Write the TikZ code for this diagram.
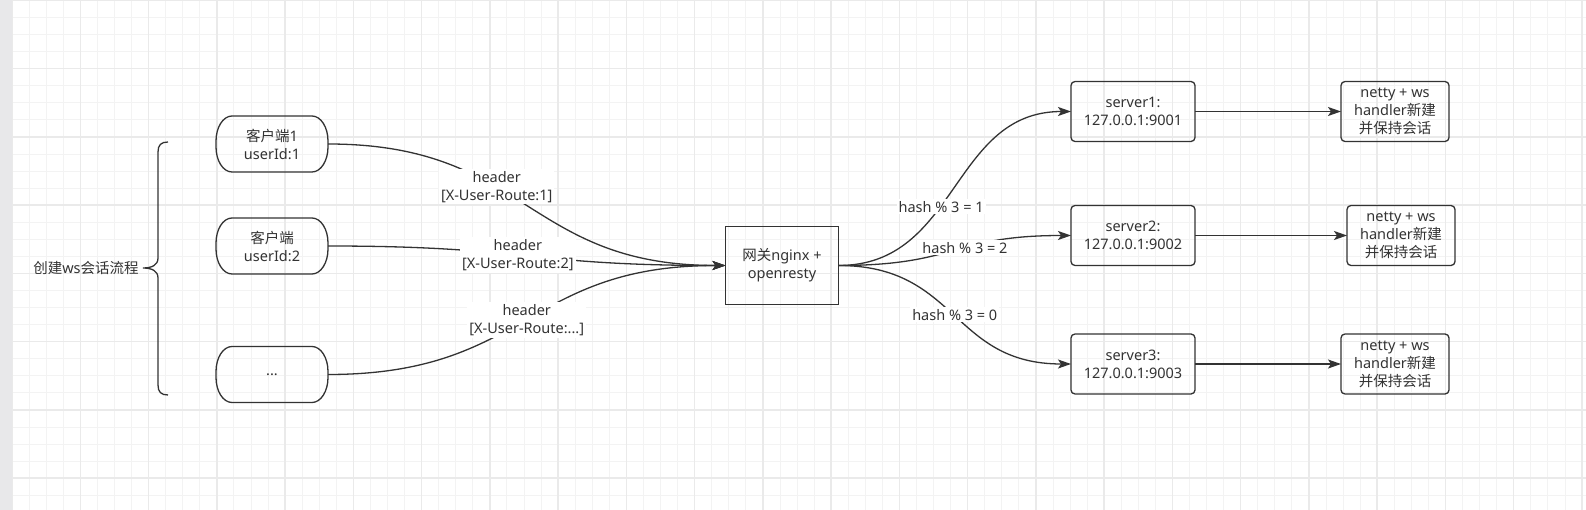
\documentclass[tikz,border=0pt]{standalone}
\usepackage{fontspec}
\setmainfont{Noto Sans}
\newfontfamily\cjk{Noto Sans CJK SC}
\usetikzlibrary{arrows.meta}

\definecolor{ink}{HTML}{333333}
\definecolor{gridmajor}{HTML}{EAEAEA}
\definecolor{gridminor}{HTML}{F3F3F3}
\definecolor{sidebar}{HTML}{E8E8EA}

\tikzset{
	txt/.style={text=ink, font=\fontsize{14.5}{18}\selectfont, align=center},
	frame/.style={draw=ink, line width=1.3pt},
	client/.style={txt, minimum width=112pt, minimum height=56pt, outer sep=0pt},
	gate/.style={txt, frame, minimum width=113pt, minimum height=78pt, outer sep=0pt},
	server/.style={txt, frame, rounded corners=4pt, minimum width=124pt, minimum height=60pt, outer sep=0pt},
	netty/.style={txt, frame, rounded corners=4pt, minimum width=108pt, minimum height=60pt, outer sep=0pt},
	lbl/.style={txt, fill=white, inner sep=2pt},
	link/.style={draw=ink, line width=1.3pt, -{Stealth[length=13pt, width=9pt, inset=3pt]}},
}

% client outline with flat elliptic ends
\newcommand{\termframe}[1]{%
	\draw[frame] ([xshift=16pt]#1.north west) -- ([xshift=-16pt]#1.north east)
		arc[start angle=90, end angle=0, x radius=16pt, y radius=25pt]
		-- ([yshift=25pt]#1.south east)
		arc[start angle=0, end angle=-90, x radius=16pt, y radius=25pt]
		-- ([xshift=16pt]#1.south west)
		arc[start angle=270, end angle=180, x radius=16pt, y radius=25pt]
		-- ([yshift=-25pt]#1.north west)
		arc[start angle=180, end angle=90, x radius=16pt, y radius=25pt] -- cycle;}

\begin{document}
\begin{tikzpicture}[x=1pt, y=-1pt]
	
	\useasboundingbox (0,0) rectangle (1586,510);
	
	% Grid
	\fill[white] (0,0) rectangle (1586,510);
	\foreach \i in {0,...,93}
		\draw[gridminor, line width=0.8pt] ({12+17.065*\i},0) -- ({12+17.065*\i},510);
	\foreach \j in {0,...,30}
		\draw[gridminor, line width=0.8pt] (0,{0.4+17.065*\j}) -- (1586,{0.4+17.065*\j});
	\foreach \i in {0,...,23}
		\draw[gridmajor, line width=1.5pt] ({12+68.26*\i},0) -- ({12+68.26*\i},510);
	\foreach \j in {0,...,7}
		\draw[gridmajor, line width=1.5pt] (0,{0.4+68.26*\j}) -- (1586,{0.4+68.26*\j});
	\fill[sidebar] (0,0) rectangle (11.5,510);
	
	% Brace
	\node[txt] (flow) at (86,268) {{\cjk 创建}ws{\cjk 会话流程}};
	\draw[frame] (168,142) .. controls (161,142) and (158,145) .. (158,152) -- (158,258)
		.. controls (158,265) and (152,268) .. (143,268)
		.. controls (152,268) and (158,271) .. (158,278) -- (158,385)
		.. controls (158,392) and (161,395) .. (168,395);
	
	% Clients
	\node[client] (c1) at (272,144) {{\cjk 客户端}1\\userId:1};
	\node[client] (c2) at (272,246) {{\cjk 客户端}\\userId:2};
	\node[client] (c3) at (272,374.5) {...};
	\termframe{c1}
	\termframe{c2}
	\termframe{c3}
	
	% Gateway
	\node[gate] (gw) at (782,265.5) {{\cjk 网关}nginx +\\openresty};
	
	% Servers
	\node[server] (s1) at (1133,111.5) {server1:\\127.0.0.1:9001};
	\node[server] (s2) at (1133,235.5) {server2:\\127.0.0.1:9002};
	\node[server] (s3) at (1133,364) {server3:\\127.0.0.1:9003};
	
	\node[netty] (n1) at (1395,111.5) {netty + ws\\handler{\cjk 新建}\\{\cjk 并保持会话}};
	\node[netty] (n2) at (1401,235.5) {netty + ws\\handler{\cjk 新建}\\{\cjk 并保持会话}};
	\node[netty] (n3) at (1395,364) {netty + ws\\handler{\cjk 新建}\\{\cjk 并保持会话}};
	
	% Connectors
	\draw[link] (c1.east) .. controls +(200,0) and +(-200,0) .. node[lbl, pos=0.4] {header\\{[}X-User-Route:1]} (gw.west);
	\draw[link] (c2.east) .. controls +(200,0) and +(-200,0) .. node[lbl, pos=0.47] {header\\{[}X-User-Route:2]} (gw.west);
	\draw[link] (c3.east) .. controls +(200,0) and +(-200,0) .. node[lbl, pos=0.5] {header\\{[}X-User-Route:...]} (gw.west);
	
	\draw[link] (gw.east) .. controls +(120,0) and +(-120,0) .. node[lbl, pos=0.42] {hash \% 3 = 1} (s1.west);
	\draw[link] (gw.east) .. controls +(120,0) and +(-120,0) .. node[lbl, pos=0.56] {hash \% 3 = 2} (s2.west);
	\draw[link] (gw.east) .. controls +(120,0) and +(-120,0) .. node[lbl, pos=0.5] {hash \% 3 = 0} (s3.west);
	
	\draw[link] (s1.east) -- (n1.west);
	\draw[link] (s2.east) -- (n2.west);
	\draw[link] (s3.east) -- (n3.west);
	
\end{tikzpicture}
\end{document}
